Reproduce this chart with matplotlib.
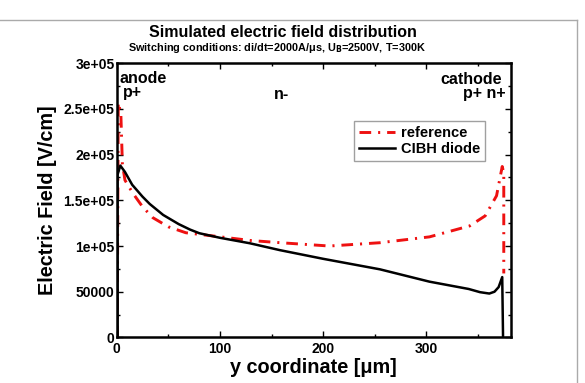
import matplotlib
matplotlib.use('agg')
import matplotlib.pyplot as plt
from matplotlib.lines import Line2D
from matplotlib.ticker import MultipleLocator, FixedLocator

plt.rcParams['font.family'] = ['Liberation Sans', 'DejaVu Sans']
plt.rcParams['font.weight'] = 'bold'
plt.rcParams['lines.scale_dashes'] = False

# CIBH diode field (black solid)
cibh_x = [0.8, 0.8, 3.5, 8, 15, 25, 32, 45, 60, 71, 80, 100, 129, 158,
          200, 255, 303, 341, 352, 361, 366, 370, 373.5, 374.3]
cibh_y = [0, 178000, 188000, 181000, 167000, 154000, 146000, 134000,
          124000, 118000, 114000, 109000, 103000, 95500, 86000, 74500,
          61000, 53000, 49500, 48000, 50000, 55000, 66000, 0]

# reference diode field (red dash-dot)
ref_x = [0.5, 1.5, 4, 5.5, 8, 15.5, 25, 35, 50, 67, 97, 130, 160, 206,
         255, 303, 342, 357, 368, 373.5, 375, 375]
ref_y = [0, 257000, 245000, 190000, 172000, 158000, 143000, 131000,
         121000, 114500, 110500, 106000, 103500, 100000, 103600, 110000,
         122000, 133000, 155000, 187000, 180000, 70000]

yticks = [0, 50000, 100000, 150000, 200000, 250000, 300000]
ytick_labels = ['0', '50000', '1e+05', '1.5e+05', '2e+05', '2.5e+05', '3e+05']
xticks = [0, 100, 200, 300]

fig = plt.figure(figsize=(5.85, 3.83), dpi=100)
ax = fig.add_axes([0.1995, 0.119, 0.674, 0.716])

ax.plot(ref_x, ref_y, color='#ee1111', lw=2.1, dashes=[8.4, 5, 1.5, 5],
        label='reference')
ax.plot(cibh_x, cibh_y, color='black', lw=1.8, label='CIBH diode')

ax.set_xlim(0, 382)
ax.set_ylim(0, 300000)
ax.xaxis.set_major_locator(FixedLocator(xticks))
ax.xaxis.set_minor_locator(MultipleLocator(50))
ax.set_yticks(yticks)
ax.set_yticklabels(ytick_labels)
ax.yaxis.set_minor_locator(MultipleLocator(25000))
ax.tick_params(which='both', direction='in', top=True, right=True,
               labelsize=10, width=1)
ax.tick_params(axis='y', pad=1.5)
ax.tick_params(which='major', length=4.5)
ax.tick_params(which='minor', length=2.5)
for s in ax.spines.values():
    s.set_linewidth(1.8)

ax.set_xlabel('y coordinate [\u03bcm]', fontsize=14.3, fontweight='bold',
              labelpad=1)
ax.set_ylabel('Electric Field [V/cm]', fontsize=14.3, fontweight='bold',
              labelpad=5)

fig.text(0.483, 0.915, 'Simulated electric field distribution',
         ha='center', va='center', fontsize=11.5)
fig.text(0.473, 0.875,
         'Switching conditions: di/dt=2000A/\u03bcs, U$_\\mathbf{B}$=2500V, T=300K',
         ha='center', va='center', fontsize=7.8)

ax.text(3, 292000, 'anode', fontsize=11.5, ha='left', va='top')
ax.text(6, 276000, 'p+', fontsize=11.5, ha='left', va='top')
ax.text(160, 274000, 'n-', fontsize=11.5, ha='center', va='top')
ax.text(373, 290000, 'cathode', fontsize=11.5, ha='right', va='top')
ax.text(377, 275000, 'p+ n+', fontsize=11.5, ha='right', va='top')

leg = ax.legend(loc='upper right', bbox_to_anchor=(0.935, 0.79),
                fontsize=10.5, frameon=True, fancybox=False,
                borderpad=0.35, labelspacing=0.15, handlelength=2.5,
                handletextpad=0.4, borderaxespad=0)
leg.get_frame().set_edgecolor('#888888')
leg.get_frame().set_linewidth(1)

# light grey frame around the figure
fig.add_artist(Line2D([0, 577 / 585], [1 - 20 / 383, 1 - 20 / 383],
                      transform=fig.transFigure, color='#aaaaaa', lw=1))
fig.add_artist(Line2D([577 / 585, 577 / 585], [0, 1 - 20 / 383],
                      transform=fig.transFigure, color='#aaaaaa', lw=1))

fig.savefig('out.png', dpi=100)
